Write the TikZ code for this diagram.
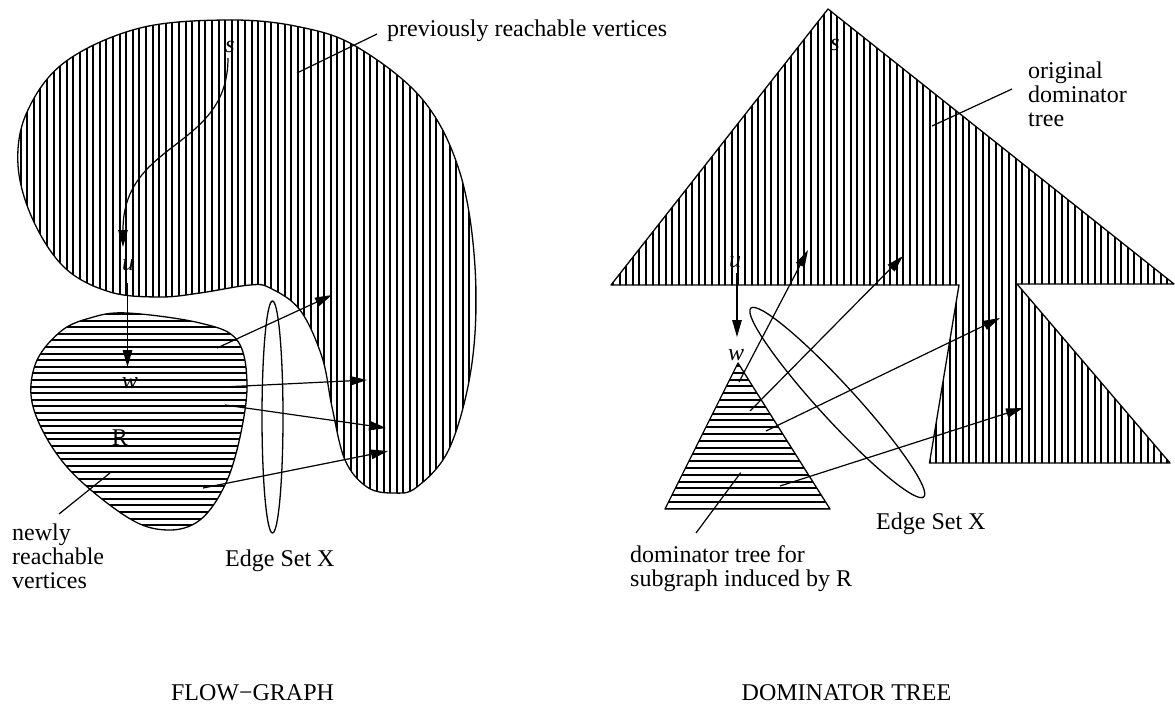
\documentclass[tikz,border=0pt]{standalone}
\usepackage{fontspec}
\setmainfont{Liberation Serif}
\usetikzlibrary{arrows.meta}
\begin{document}
\begin{tikzpicture}[x=1pt,y=-1pt,
  outline/.style={line width=1.3pt,line join=round},
  hatchline/.style={line width=2pt},
  arr/.style={line width=1.2pt,-{Triangle[length=17pt,width=9.5pt]}},
  leader/.style={line width=1.2pt},
  lbl/.style={font=\fontsize{24}{24}\selectfont,inner sep=0pt},
  mlbl/.style={font=\fontsize{24}{24}\selectfont,inner sep=0pt,align=left,anchor=north west},
  vlbl/.style={font=\fontsize{24}{24}\selectfont\itshape,inner sep=0pt}]
\useasboundingbox (0,0) rectangle (1175,709);
\def\leftblob{plot[smooth cycle,tension=0.6] coordinates {(230,20) (300,27) (357,47) (423,100) (460,173) (475,267) (472,363) (450,447) (417,487) (393,493) (367,487) (345,460) (332,407) (322,357) (300,310) (270,288) (250,285) (200,293) (160,297) (110,292) (65,268) (33,220) (18,165) (27,112) (65,62) (140,28)}}
\def\rblob{plot[smooth cycle,tension=0.6] coordinates {(127,313) (200,323) (237,340) (247,383) (240,437) (225,485) (200,520) (167,530) (127,517) (67,467) (34,410) (35,365) (60,332) (90,318)}}
\def\bigtree{(828,9) -- (1174,284) -- (1017,284) -- (1170,463) -- (929.5,463) -- (959,285) -- (611,285) -- cycle}
\def\smalltree{(738,363) -- (830,509) -- (665,509) -- cycle}
% left blob, vertical hatching
\begin{scope}
  \clip \leftblob;
  \foreach \i in {0,...,72} {
    \pgfmathsetmacro{\xx}{round(14+\i*6.6)}
    \draw[hatchline] (\xx,10) -- (\xx,500);
  }
\end{scope}
\draw[outline] \leftblob;
% R blob, horizontal hatching
\begin{scope}
  \clip \rblob;
  \foreach \i in {0,...,34} {
    \pgfmathsetmacro{\yy}{round(314+\i*6.6)}
    \draw[hatchline] (25,\yy) -- (255,\yy);
  }
\end{scope}
\draw[outline] \rblob;
% right big tree, vertical hatching
\begin{scope}
  \clip \bigtree;
  \foreach \i in {0,...,86} {
    \pgfmathsetmacro{\xx}{round(613+\i*6.6)}
    \draw[hatchline] (\xx,5) -- (\xx,470);
  }
\end{scope}
\draw[outline] \bigtree;
% small tree, horizontal hatching
\begin{scope}
  \clip \smalltree;
  \foreach \i in {0,...,21} {
    \pgfmathsetmacro{\yy}{round(366+\i*6.8)}
    \draw[hatchline] (660,\yy) -- (835,\yy);
  }
\end{scope}
\draw[outline] \smalltree;
% ellipses (edge set X)
\draw[outline] (272.5,417) ellipse [x radius=10.5,y radius=116];
\draw[outline,rotate around={-47.5:(837.3,402.5)}] (837.3,402.5) ellipse [x radius=128,y radius=18];
% vertex labels
\node[vlbl] (sA) at (230,47) {s};
\node[vlbl] (uA) at (128,265) {u};
\node[vlbl] (wA) at (130,383) {w};
\node[lbl] (RA) at (120,438) {R};
\node[vlbl] (sB) at (835,45) {s};
\node[vlbl] (uB) at (735,262) {u};
\node[vlbl] (wB) at (736,355) {w};
% left connectors
\coordinate (sAo) at (228,58);
\coordinate (sAm) at (123,230);
\coordinate (uAi) at (123,247);
\draw[line width=1.2pt] (sAo) .. controls (228,150) and (123,140) .. (sAm);
\draw[arr] (sAm) -- (uAi);
\coordinate (uAo) at (127.5,283);
\coordinate (wAi) at (127.5,367);
\draw[arr] (uAo) -- (wAi);
\coordinate (x1s) at (217,348); \coordinate (x1t) at (332,295);
\coordinate (x2s) at (223,387); \coordinate (x2t) at (367,380);
\coordinate (x3s) at (225,405); \coordinate (x3t) at (386,428);
\coordinate (x4s) at (203,488); \coordinate (x4t) at (388,451);
\draw[arr] (x1s) -- (x1t);
\draw[arr] (x2s) -- (x2t);
\draw[arr] (x3s) -- (x3t);
\draw[arr] (x4s) -- (x4t);
% right connectors
\coordinate (uBo) at (737,273);
\coordinate (wBi) at (737,337);
\draw[arr] (uBo) -- (wBi);
\coordinate (y1s) at (739,382); \coordinate (y1t) at (808,250);
\coordinate (y2s) at (750,411); \coordinate (y2t) at (903,256);
\coordinate (y3s) at (766,431); \coordinate (y3t) at (1000,318);
\coordinate (y4s) at (780,486); \coordinate (y4t) at (1023,408);
\draw[arr] (y1s) -- (y1t);
\draw[arr] (y2s) -- (y2t);
\draw[arr] (y3s) -- (y3t);
\draw[arr] (y4s) -- (y4t);
% text labels
\node[lbl,anchor=base west] (prev) at (387,37) {previously reachable vertices};
\node[mlbl] (newly) at (12,523.5) {newly\\reachable\\vertices};
\node[lbl,anchor=base west] (esA) at (225,566.5) {Edge Set X};
\node[mlbl] (orig) at (1028,61.5) {original\\dominator\\tree};
\node[mlbl] (sub) at (630,545.5) {dominator tree for\\subgraph induced by R};
\node[lbl,anchor=base west] (esB) at (876,529) {Edge Set X};
\node[lbl,anchor=base] (fg) at (252.5,700) {FLOW−GRAPH};
\node[lbl,anchor=base] (dt) at (846.5,700) {DOMINATOR TREE};
% leader lines
\coordinate (l1a) at (297,73); \coordinate (l1b) at (377,34);
\coordinate (l2a) at (110,473); \coordinate (l2b) at (59,514);
\coordinate (l3a) at (932,126); \coordinate (l3b) at (1012,89);
\coordinate (l4a) at (740.7,472.7); \coordinate (l4b) at (696,533);
\draw[leader] (l1a) -- (l1b);
\draw[leader] (l2a) -- (l2b);
\draw[leader] (l3a) -- (l3b);
\draw[leader] (l4a) -- (l4b);
\end{tikzpicture}
\end{document}
